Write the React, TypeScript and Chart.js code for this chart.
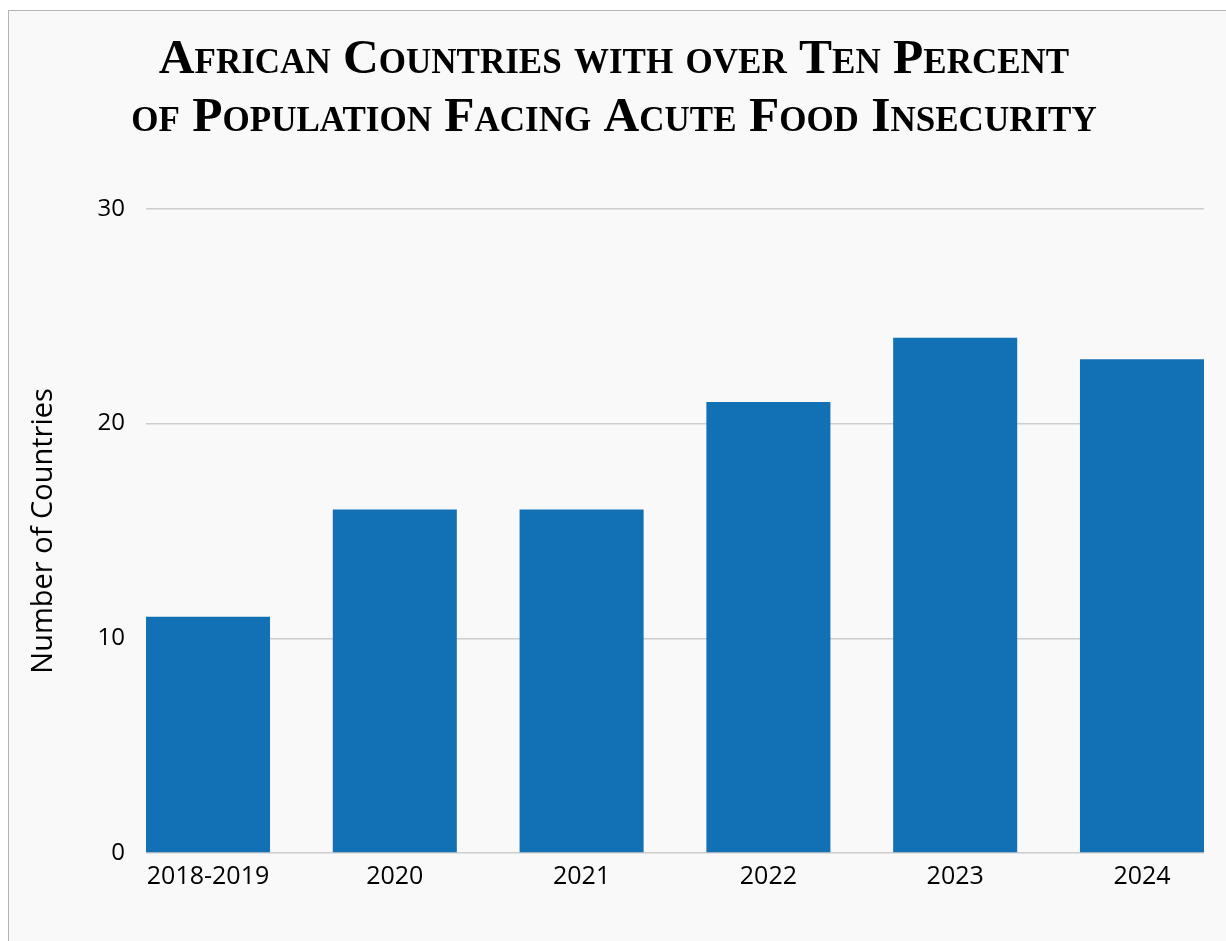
import React, { useEffect, useRef } from 'react';
import { Chart, registerables } from 'chart.js';
Chart.register(...registerables);

const categories = ['2018-2019', '2020', '2021', '2022', '2023', '2024'];
const countries = [11, 16, 16, 21, 24, 23];
const yMin = 0;
const yMax = 30;
const yStep = 10;
const titleLines = ['African Countries with over Ten Percent', 'of Population Facing Acute Food Insecurity'];
const yAxisTitle = 'Number of Countries';

const SANS = "'Open Sans', 'Noto Sans', sans-serif";
const SERIF = "'Liberation Serif', 'DejaVu Serif', serif";

export default function App() {
  const ref = useRef<HTMLCanvasElement>(null);
  useEffect(() => {
    const chart = new Chart(ref.current as HTMLCanvasElement, {
      type: 'bar',
      data: {
        datasets: [
          {
            data: categories.map((c, i) => ({ x: i, y: countries[i] })),
            backgroundColor: '#1270b4',
            borderWidth: 0,
            categoryPercentage: 1,
            barPercentage: 0.664,
          } as any,
        ],
      },
      options: {
        animation: false,
        responsive: false,
        layout: { padding: { left: 15, right: 45, top: 0, bottom: 0 } },
        plugins: {
          legend: { display: false },
          tooltip: { enabled: false },
          title: {
            display: true,
            text: titleLines,
            color: '#000',
            font: { family: SERIF, size: 49.5, weight: 'small-caps bold' as any, lineHeight: 1.18 },
            padding: { top: 20, bottom: 61 },
          },
        },
        scales: {
          x: {
            type: 'linear',
            offset: false,
            min: -0.332,
            max: 5.332,
            grid: { display: false, offset: false },
            border: { display: false },
            ticks: {
              includeBounds: false,
              stepSize: 1,
              autoSkip: false,
              maxRotation: 0,
              color: '#000',
              font: { family: SANS, size: 25 },
              padding: 1,
              callback: (v: any) => categories[v] ?? '',
            },
            afterFit: (s: any) => {
              s.height = 118;
            },
          },
          y: {
            min: yMin,
            max: yMax,
            border: { display: false },
            grid: { color: '#cdcdcd', lineWidth: 1.5, drawTicks: false },
            ticks: {
              stepSize: yStep,
              color: '#000',
              font: { family: SANS, size: 24 },
              padding: 21,
            },
            title: {
              display: true,
              text: yAxisTitle,
              color: '#000',
              font: { family: SANS, size: 29 },
              padding: 2,
            },
            afterFit: (s: any) => {
              s.width = 122;
            },
          },
        },
      },
    } as any);
    return () => chart.destroy();
  }, []);

  return (
    <div style={{ position: 'fixed', left: 0, top: 0, width: 1226, height: 941, overflow: 'hidden', background: '#fff' }}>
      <div
        style={{
          position: 'absolute',
          left: 8,
          top: 10,
          width: 1240,
          height: 960,
          border: '1px solid #b4b4b4',
          background: '#f9f9f9',
        }}
      >
        <canvas ref={ref} width={1240} height={960} style={{ display: 'block', width: 1240, height: 960 }} />
      </div>
    </div>
  );
}
